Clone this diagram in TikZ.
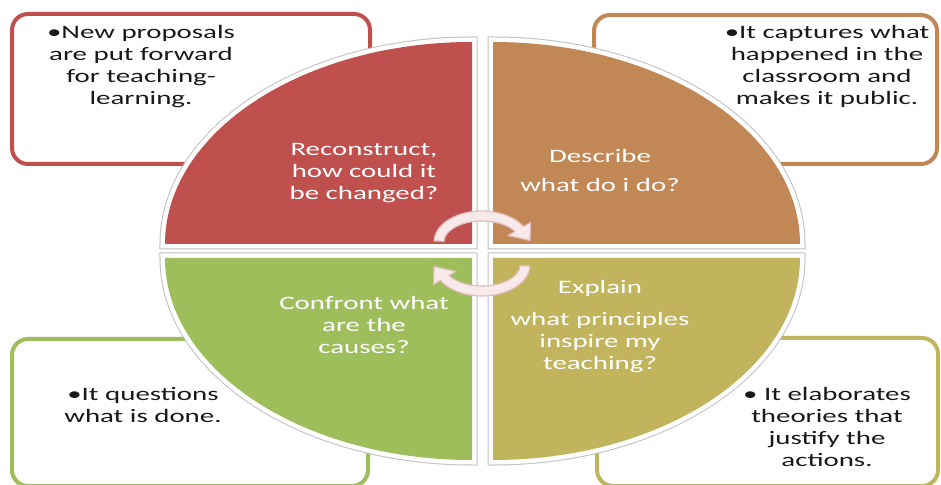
\documentclass[tikz,border=0pt]{standalone}
\usepackage{fontspec}
\setmainfont{Carlito}
\usepackage{graphicx}
\usetikzlibrary{calc}

\definecolor{qred}{RGB}{192,80,77}
\definecolor{qorange}{RGB}{193,135,84}
\definecolor{qgold}{RGB}{193,180,92}
\definecolor{qgreen}{RGB}{158,190,92}
\definecolor{rimgray}{RGB}{192,192,192}
\definecolor{arrowfill}{RGB}{248,234,234}
\definecolor{arrowedge}{RGB}{226,188,188}

% wide, centred block of lines
\newcommand{\widetext}[1]{\scalebox{1.52}[1]{\begin{tabular}{@{}c@{}}#1\end{tabular}}}

\begin{document}
\begin{tikzpicture}[x=1pt,y=1pt,
  notebox/.style={line width=4pt, rounded corners=16pt, fill=white},
  rim/.style={draw=rimgray, line width=11pt},
  rimwhite/.style={draw=white, line width=9pt},
  quadtext/.style={inner sep=0pt, text=white, font=\fontsize{19}{22}\selectfont},
  notetext/.style={inner sep=0pt, text=black!90, font=\fontsize{19}{22}\selectfont},
  cyclearrow/.style={fill=arrowfill, draw=arrowedge, line width=1.2pt, line join=round}]
\useasboundingbox (0,0) rectangle (941,484);
\clip (0,0) rectangle (941,484);
\fill[white] (0,0) rectangle (941,484);

% note boxes behind the wheel
\draw[notebox, draw=qred]    (12,320) rectangle (370,470);
\draw[notebox, draw=qorange] (594,320) rectangle (937,469);
\draw[notebox, draw=qgreen]  (12,-2) rectangle (368,145);
\draw[notebox, draw=qgold]   (597,-2) rectangle (938,146);

\node[notetext] (noteR) at (141,417) {\widetext{•New proposals\\are put forward\\for teaching-\\learning.}};
\node[notetext] (noteO) at (827,416.5) {\widetext{•It captures what\\happened in the\\classroom and\\makes it public.}};
\node[notetext] (noteG) at (143,76.5) {\widetext{•It questions\\what is done.}};
\node[notetext] (noteY) at (827,54.5) {\widetext{• It elaborates\\theories that\\justify the\\actions.}};

% wheel quadrants: grey rim, white band, colour fill
\foreach \cx/\cy/\sx/\sy/\col in {472/240/-1/1/qred, 493/240/1/1/qorange, 472/226/-1/-1/qgreen, 493/226/1/-1/qgold}{
  \begin{scope}[shift={(\cx,\cy)}, xscale=\sx, yscale=\sy]
    \draw[rim] (0,0) -- (307,0) arc[start angle=0, end angle=90, x radius=307, y radius=202] -- cycle;
    \draw[rimwhite] (0,0) -- (307,0) arc[start angle=0, end angle=90, x radius=307, y radius=202] -- cycle;
    \fill[\col] (0,0) -- (307,0) arc[start angle=0, end angle=90, x radius=307, y radius=202] -- cycle;
  \end{scope}
}

\node[quadtext] (qR) at (364,311) {\widetext{Reconstruct,\\how could it\\be changed?}};
\node[quadtext] (qO) at (600,311.5) {\widetext{Describe\\[7pt]what do i do?}};
\node[quadtext] (qY) at (600,156.5) {\widetext{Explain\\[10pt]what principles\\inspire my\\teaching?}};
\node[quadtext] (qG) at (364,156.5) {\widetext{Confront what\\are the\\causes?}};

% circular arrows in the centre
\coordinate (C1) at (482,242);
\coordinate (C2) at (482,219);
\draw[cyclearrow] ($(C1)+(178:48 and 31)$)
  arc[start angle=178, end angle=30, x radius=48, y radius=31]
  -- ($(C1)+(30:56 and 39)$) -- ($(C1)+(48,1.5)$) -- ($(C1)+(30:30 and 13)$)
  -- ($(C1)+(30:38 and 21)$)
  arc[start angle=30, end angle=178, x radius=38, y radius=21] -- cycle;
\draw[cyclearrow] ($(C2)+(-2:48 and 31)$)
  arc[start angle=-2, end angle=-150, x radius=48, y radius=31]
  -- ($(C2)+(-150:56 and 39)$) -- ($(C2)+(-48,-1.5)$) -- ($(C2)+(-150:30 and 13)$)
  -- ($(C2)+(-150:38 and 21)$)
  arc[start angle=-150, end angle=-2, x radius=38, y radius=21] -- cycle;
\end{tikzpicture}
\end{document}
